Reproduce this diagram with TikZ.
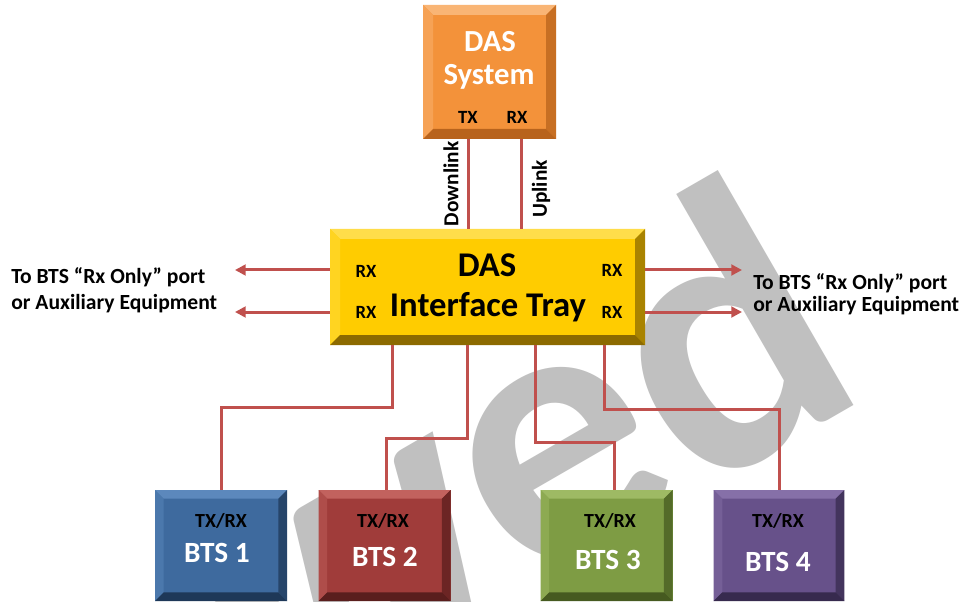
\documentclass[tikz,border=0pt]{standalone}
\usepackage{fontspec}
\setmainfont{Carlito}
\usetikzlibrary{arrows.meta,calc}
\definecolor{linkred}{HTML}{C0504D}
\definecolor{wmgray}{HTML}{C0C0C0}
\definecolor{orFace}{HTML}{F3923A}
\definecolor{orLight}{HTML}{F9B575}
\definecolor{orDark}{HTML}{B8631C}
\definecolor{yeFace}{HTML}{FFCC00}
\definecolor{yeLight}{HTML}{FFDD4A}
\definecolor{yeDark}{HTML}{8C6A00}
\definecolor{blFace}{HTML}{3E6A9E}
\definecolor{blLight}{HTML}{5C88BC}
\definecolor{blDark}{HTML}{1E3858}
\definecolor{rdFace}{HTML}{A03C3A}
\definecolor{rdLight}{HTML}{C2625E}
\definecolor{rdDark}{HTML}{5A1E1D}
\definecolor{gnFace}{HTML}{7E9C44}
\definecolor{gnLight}{HTML}{9EBA64}
\definecolor{gnDark}{HTML}{465A20}
\definecolor{puFace}{HTML}{67518A}
\definecolor{puLight}{HTML}{8670A8}
\definecolor{puDark}{HTML}{372A4E}
\tikzset{
  bevelbox/.style n args={4}{rectangle, inner sep=0pt, fill=#1,
    path picture={
      \fill[#2] (path picture bounding box.north west) -- (path picture bounding box.north east)
        -- ([xshift=-#4,yshift=-#4]path picture bounding box.north east)
        -- ([xshift=#4,yshift=-#4]path picture bounding box.north west) -- cycle;
      \fill[#2!45!#1] (path picture bounding box.north west)
        -- ([xshift=#4,yshift=-#4]path picture bounding box.north west)
        -- ([xshift=#4,yshift=#4]path picture bounding box.south west)
        -- (path picture bounding box.south west) -- cycle;
      \fill[#3!75!#1] (path picture bounding box.north east)
        -- ([xshift=-#4,yshift=-#4]path picture bounding box.north east)
        -- ([xshift=-#4,yshift=#4]path picture bounding box.south east)
        -- (path picture bounding box.south east) -- cycle;
      \fill[#3] (path picture bounding box.south west) -- (path picture bounding box.south east)
        -- ([xshift=-#4,yshift=#4]path picture bounding box.south east)
        -- ([xshift=#4,yshift=#4]path picture bounding box.south west) -- cycle;
    }},
  link/.style={draw=linkred, line width=2.25pt},
  arrowline/.style={draw=linkred, line width=2.25pt, -{Triangle[length=8pt,width=8pt]}},
  lbl/.style={inner sep=0pt, font=\bfseries\fontsize{14}{16}\selectfont, text=black},
  vlbl/.style={inner sep=0pt, font=\bfseries\fontsize{16}{18}\selectfont, text=black, rotate=90},
  side/.style={inner sep=0pt, font=\bfseries\fontsize{16.2}{18}\selectfont, text=black, anchor=west},
  wtitle/.style={inner sep=0pt, font=\bfseries\fontsize{23}{26}\selectfont, text=white},
  btsname/.style={inner sep=0pt, font=\bfseries\fontsize{22}{24}\selectfont, text=white},
  btsport/.style={inner sep=0pt, font=\bfseries\fontsize{15}{17}\selectfont, text=black},
  traytitle/.style={inner sep=0pt, font=\bfseries\fontsize{26}{28}\selectfont, text=black},
  wm/.style={inner sep=0pt, font=\bfseries\fontsize{290}{290}\selectfont, text=wmgray},
}
\begin{document}
\begin{tikzpicture}[x=0.75pt,y=-0.75pt]
\path[use as bounding box, fill=white] (0,0) rectangle (974,602);
% watermark
\begin{scope}
\clip (0,0) rectangle (974,602);
\node[wm, rotate=30, anchor=base east] (wm) at (874,394) {wed};
\end{scope}

% boxes
\node[bevelbox={orFace}{orLight}{orDark}{7.5pt}, minimum width=99.75pt, minimum height=100.5pt] (das) at (489.5,72) {};
\node[bevelbox={yeFace}{yeLight}{yeDark}{7.5pt}, minimum width=236.25pt, minimum height=87pt] (tray) at (487.5,287) {};
\node[bevelbox={blFace}{blLight}{blDark}{6.5pt}, minimum width=99pt, minimum height=83.25pt] (bts1) at (221,545.5) {};
\node[bevelbox={rdFace}{rdLight}{rdDark}{6.5pt}, minimum width=99pt, minimum height=83.25pt] (bts2) at (384.5,545.5) {};
\node[bevelbox={gnFace}{gnLight}{gnDark}{6.5pt}, minimum width=99pt, minimum height=83.25pt] (bts3) at (606.5,545.5) {};
\node[bevelbox={puFace}{puLight}{puDark}{6.5pt}, minimum width=98pt, minimum height=83.25pt] (bts4) at (779,545.5) {};

% DAS system texts
\node[wtitle] (dasT1) at (490,42) {DAS};
\node[wtitle] (dasT2) at (489,77) {System};
\node[lbl] (dasTX) at (468,117) {TX};
\node[lbl] (dasRX) at (517,117) {RX};

% tray texts
\node[traytitle] (trT1) at (487,265) {DAS};
\node[traytitle] (trT2) at (488,307) {Interface Tray};
\node[lbl] (trL1) at (366,271) {RX};
\node[lbl] (trL2) at (366,312) {RX};
\node[lbl] (trR1) at (612,270) {RX};
\node[lbl] (trR2) at (612,312) {RX};

% BTS texts
\node[btsport] (p1) at (221,521) {TX/RX};
\node[btsname] (n1) at (217,553) {BTS 1};
\node[btsport] (p2) at (383,521) {TX/RX};
\node[btsname] (n2) at (385,557) {BTS 2};
\node[btsport] (p3) at (610,521) {TX/RX};
\node[btsname] (n3) at (608,560) {BTS 3};
\node[btsport] (p4) at (778,521) {TX/RX};
\node[btsname] (n4) at (778,562) {BTS 4};

% DAS - tray links
\draw[link] ($(das.south)+(-21.5,0)$) coordinate (dl) -- (dl |- tray.north);
\draw[link] ($(das.south)+(31.5,0)$) coordinate (ul) -- (ul |- tray.north);
\node[vlbl] (dlt) at (451,184) {Downlink};
\node[vlbl] (ult) at (541,189) {Uplink};

% side arrows
\coordinate (la1) at (235,270);
\coordinate (la2) at (235,312);
\coordinate (ra1) at (742,270);
\coordinate (ra2) at (742,312);
\draw[arrowline] (la1 -| tray.west) -- (la1);
\draw[arrowline] (la2 -| tray.west) -- (la2);
\draw[arrowline] (ra1 -| tray.east) -- (ra1);
\draw[arrowline] (ra2 -| tray.east) -- (ra2);
\node[side] (lt1) at (11,277) {To BTS “Rx Only” port};
\node[side] (lt2) at (11,304) {or Auxiliary Equipment};
\node[side] (rt1) at (753,283) {To BTS “Rx Only” port};
\node[side] (rt2) at (753,306) {or Auxiliary Equipment};

% tray - BTS links
\draw[link] ($(tray.south west)+(63,0)$) -- ++(0,62) -| (bts1.north);
\draw[link] ($(tray.south west)+(138,0)$) -- ++(0,93) -| ($(bts2.north)+(2,0)$);
\draw[link] ($(tray.south west)+(206,0)$) -- ++(0,97) -| ($(bts3.north)+(8,0)$);
\draw[link] ($(tray.south west)+(275,0)$) -- ++(0,64) -| (bts4.north);
\end{tikzpicture}
\end{document}
